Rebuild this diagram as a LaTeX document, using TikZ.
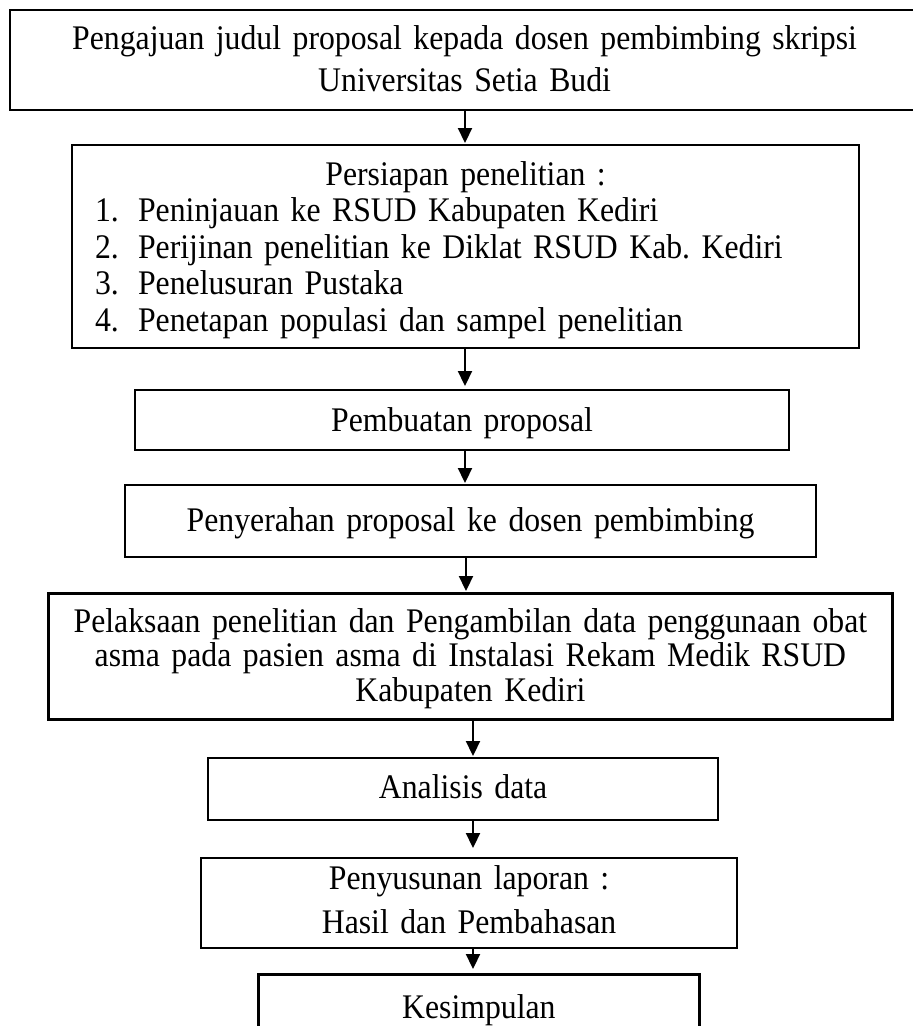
\documentclass[tikz,border=0pt]{standalone}
\usepackage{fontspec}
\setmainfont[FakeStretch=0.92,WordSpace=0.8]{Liberation Serif}
\usetikzlibrary{arrows.meta}
\frenchspacing
\begin{document}
\begin{tikzpicture}[x=1pt,y=-1pt,
  box/.style={draw, line width=2.2pt, inner xsep=0pt, inner ysep=0pt,
    align=center, anchor=north west,
    font=\fontsize{34.5pt}{36.5pt}\selectfont},
  conn/.style={line width=2.2pt, -{Triangle[width=14pt,length=15pt]}, shorten >=1pt}]
\useasboundingbox (0,0) rectangle (913,1026);
\clip (0,0) rectangle (913,1026);

\node[box, text width=909pt, text height=39pt, text depth=61pt,
  font=\fontsize{34.5pt}{42pt}\selectfont] (b1) at (9,9)
  {Pengajuan judul proposal kepada dosen pembimbing skripsi\\Universitas Setia Budi};

\node[box, text width=741pt, inner xsep=23pt, align=left,
  text height=40pt, text depth=163pt] (b2) at (71,144)
  {\makebox[\linewidth]{Persiapan penelitian :}\\
   \makebox[43pt][l]{1.}Peninjauan ke RSUD Kabupaten Kediri\\
   \makebox[43pt][l]{2.}Perijinan penelitian ke Diklat RSUD Kab. Kediri\\
   \makebox[43pt][l]{3.}Penelusuran Pustaka\\
   \makebox[43pt][l]{4.}Penetapan populasi dan sampel penelitian};

\node[box, text width=654pt, text height=41pt, text depth=19pt] (b3) at (134,389)
  {Pembuatan proposal};

\node[box, text width=691pt, text height=46.5pt, text depth=25.5pt] (b4) at (124,484)
  {Penyerahan proposal ke dosen pembimbing};

\node[box, line width=2.8pt, text width=844pt, text height=39pt, text depth=87pt,
  font=\fontsize{34.5pt}{34.5pt}\selectfont] (b5) at (47,592)
  {Pelaksaan penelitian dan Pengambilan data penggunaan obat\\
   asma pada pasien asma di Instalasi Rekam Medik RSUD\\
   Kabupaten Kediri};

\node[box, text width=510pt, text height=40pt, text depth=22pt] (b6) at (207,757)
  {Analisis data};

\node[box, text width=536pt, text height=31pt, text depth=59pt,
  font=\fontsize{34.5pt}{44pt}\selectfont] (b7) at (200,857)
  {Penyusunan laporan :\\Hasil dan Pembahasan};

\node[box, line width=2.8pt, text width=441pt, text height=44pt, text depth=30pt] (b8) at (257,973)
  {Kesimpulan};

\coordinate (xa) at (465,0);
\coordinate (xc) at (466,0);
\coordinate (xb) at (473,0);

\draw[conn] (b1.south -| xa) -- (b2.north -| xa);
\draw[conn, shorten >=3pt] (b2.south -| xa) -- (b3.north -| xa);
\draw[conn] (b3.south -| xa) -- (b4.north -| xa);
\draw[conn] (b4.south -| xc) -- (b5.north -| xc);
\draw[conn] (b5.south -| xb) -- (b6.north -| xb);
\draw[conn, shorten >=9pt] (b6.south -| xb) -- (b7.north -| xb);
\draw[conn, shorten >=4pt] (b7.south -| xb) -- (b8.north -| xb);
\end{tikzpicture}
\end{document}
